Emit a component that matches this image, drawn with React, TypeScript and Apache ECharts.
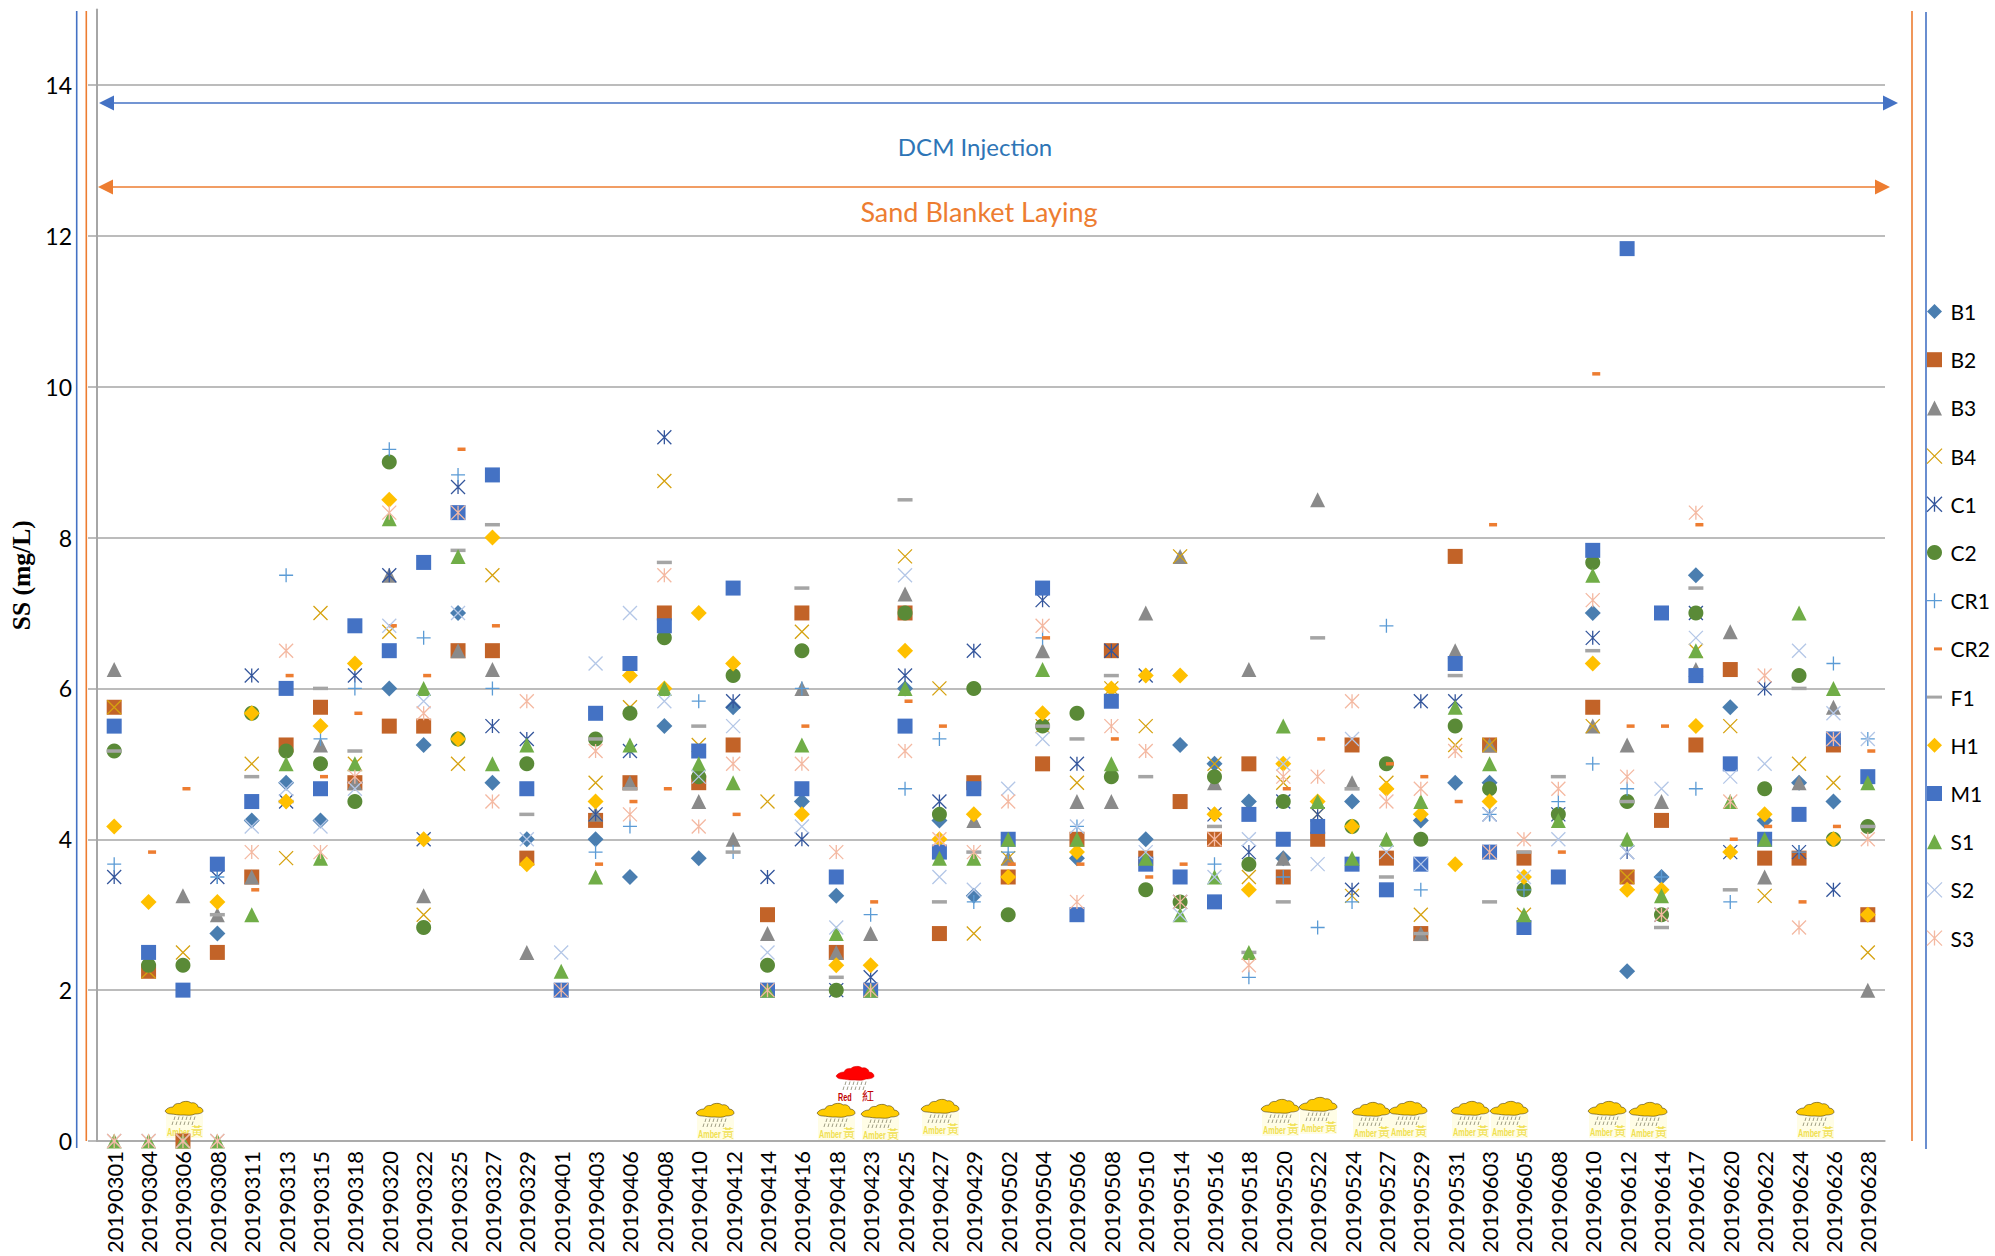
import React, { useEffect, useRef } from "react";
import * as echarts from "echarts";

const _ = null;
const dates = ["20190301","20190304","20190306","20190308","20190311","20190313","20190315","20190318","20190320","20190322","20190325","20190327","20190329","20190401","20190403","20190406","20190408","20190410","20190412","20190414","20190416","20190418","20190423","20190425","20190427","20190429","20190502","20190504","20190506","20190508","20190510","20190514","20190516","20190518","20190520","20190522","20190524","20190527","20190529","20190531","20190603","20190605","20190608","20190610","20190612","20190614","20190617","20190620","20190622","20190624","20190626","20190628"];

const B1 = [_,_,_,2.75,4.25,4.75,4.25,4.75,6,5.25, 7,4.75,4,_,4,3.5,5.5,3.75,5.75,_, 4.5,3.25,_,6,4.25,3.25,_,_,3.75,_, 4,5.25,5,4.5,3.75,_,4.5,_,4.25,4.75, 4.75,_,_,7,2.25,3.5,7.5,5.75,4.25,4.75, 4.5,_];
const B2 = [5.75,2.25,0,2.5,3.5,5.25,5.75,4.75,5.5,5.5, 6.5,6.5,3.75,_,4.25,4.75,7,4.75,5.25,3, 7,2.5,_,7,2.75,4.75,3.5,5,4,6.5, 3.75,4.5,4,5,3.5,4,5.25,3.75,2.75,7.75, 5.25,3.75,_,5.75,3.5,4.25,5.25,6.25,3.75,3.75, 5.25,3];
const B3 = [6.25,_,3.25,3,3.5,_,5.25,4.75,7.5,3.25, 6.5,6.25,2.5,_,4.33,4.75,_,4.5,4,2.75, 6,2.5,2.75,7.25,_,4.25,3.75,6.5,4.5,4.5, 7,7.75,4.75,6.25,3.75,8.5,4.75,_,2.75,6.5, 5.25,_,_,5.5,5.25,4.5,6.25,6.75,3.5,4.75, 5.75,2];
const B4 = [5.75,2.25,2.5,_,5,3.75,7,5,6.75,3, 5,7.5,_,_,4.75,5.75,8.75,5.25,_,4.5, 6.75,_,2,7.75,6,2.75,3.75,5.5,4.75,6, 5.5,7.75,5,3.5,4.75,4.33,3.25,4.75,3,5.25, 5.25,3,_,5.5,3.5,_,6.5,5.5,3.25,5, 4.75,2.5];
const C1 = [3.5,_,_,3.5,6.17,4.5,_,6.17,7.5,4, 8.67,5.5,5.33,2,4.33,5.17,9.33,_,5.83,3.5, 4,2,2.17,6.17,4.5,6.5,_,7.17,5,6.5, 6.17,3.17,4.33,3.83,4.5,4.33,3.33,_,5.83,5.83, 4.33,_,4.33,6.67,3.83,3,7,3.83,6,3.83, 3.33,_];
const C2 = [5.17,2.33,2.33,_,5.67,5.17,5,4.5,9,2.83, 5.33,_,5,_,5.33,5.67,6.67,4.83,6.17,2.33, 6.5,2,_,7,4.33,6,3,5.5,5.67,4.83, 3.33,3.17,4.83,3.67,4.5,_,4.17,5,4,5.5, 4.67,3.33,4.33,7.67,4.5,3,7,_,4.67,6.17, 4,4.17];
const CR1 = [3.67,_,_,3.5,_,7.5,5.33,6,9.17,6.67, 8.83,6,_,_,3.83,4.17,_,5.83,3.83,_, 6,_,3,4.67,5.33,3.17,3.83,6.67,4.17,_, _,_,3.67,2.17,3.5,2.83,3.17,6.83,3.33,_, 4.33,3.33,4.5,5,4.67,3.5,4.67,3.17,_,3.83, 6.33,5.33];
const CR2 = [_,3.83,4.67,_,3.33,6.17,4.83,5.67,6.83,6.17, 9.17,6.83,_,_,3.67,4.5,4.67,_,4.33,_, 5.5,_,3.17,5.83,5.5,_,3.67,6.67,3.67,5.33, 3.5,3.67,_,_,4.67,5.33,_,5,4.83,4.5, 8.17,_,3.83,10.17,5.5,5.5,8.17,4,4.17,3.17, 4.17,5.17];
const F1 = [5.17,_,_,3,4.83,4.5,6,5.17,_,_, 7.83,8.17,4.33,_,5.33,4.67,7.67,5.5,3.83,_, 7.33,2.17,_,8.5,3.17,3.83,_,5.5,5.33,6.17, 4.83,_,4.17,2.5,3.17,6.67,4.67,3.5,2.75,6.17, 3.17,3.83,4.83,6.5,4.5,2.83,7.33,3.33,_,6, _,4.17];
const H1 = [4.17,3.17,_,3.17,5.67,4.5,5.5,6.33,8.5,4, 5.33,8,3.67,_,4.5,6.17,6,7,6.33,_, 4.33,2.33,2.33,6.5,4,4.33,3.5,5.67,3.83,6, 6.17,6.17,4.33,3.33,5,4.5,4.17,4.67,4.33,3.67, 4.5,3.5,_,6.33,3.33,3.33,5.5,3.83,4.33,_, 4,3];
const M1 = [5.5,2.5,2,3.67,4.5,6,4.67,6.83,6.5,7.67, 8.33,8.83,4.67,2,5.67,6.33,6.83,5.17,7.33,2, 4.67,3.5,2,5.5,3.83,4.67,4,7.33,3,5.83, 3.67,3.5,3.17,4.33,4,4.17,3.67,3.33,3.67,6.33, 3.83,2.83,3.5,7.83,11.83,7,6.17,5,4,4.33, 5.33,4.83];
const S1 = [0,0,0,0,3,5,3.75,5,8.25,6, 7.75,5,5.25,2.25,3.5,5.25,6,5,4.75,2, 5.25,2.75,2,6,3.75,3.75,4,6.25,4,5, 3.75,3,3.5,2.5,5.5,4.5,3.75,4,4.5,5.75, 5,3,4.25,7.5,4,3.25,6.5,4.5,4,7, 6,4.75];
const S2 = [0,0,0,0,4.17,4.67,4.17,4.67,6.83,5.83, 7,_,4,2.5,6.33,7,5.83,4.83,5.5,2.5, 4.17,2.83,_,7.5,3.5,3.33,4.67,5.33,4.17,_, 3.83,3,3.5,4,5,3.67,5.33,3.83,3.67,_, 4.33,3.5,4,_,3.83,4.67,6.67,4.83,5,6.5, 5.67,5.33];
const S3 = [0,0,0,0,3.83,6.5,3.83,4.83,8.33,5.67, 8.33,4.5,5.83,2,5.17,4.33,7.5,4.17,5,2, 5,3.83,2,5.17,4,3.83,4.5,6.83,3.17,5.5, 5.17,3.17,4,2.33,4.83,4.83,5.83,4.5,4.67,5.17, 3.83,4,4.67,7.17,4.83,3,8.33,4.5,6.17,2.83, 5.33,4];

const yTicks = [0, 2, 4, 6, 8, 10, 12, 14];

const CROSS = "path://M0 0L15 15M15 0L0 15";
const PLUS = "path://M7.5 0L7.5 15M0 7.5L15 7.5";
const STAR = "path://M0 0L15 15M15 0L0 15M7.5 0L7.5 15";
const DASH_ICON = "path://M0 0L0 0M0 6H15V9H0ZM15 15L15 15";
const SHORT_ICON = "path://M0 0L0 0M7 6H15V9H7ZM15 15L15 15";

type Spec = { name: string; values: (number | null)[]; color: string; symbol: string; size: number | number[]; stroke?: boolean; offset?: number[]; icon?: string };
const specs: Spec[] = [
  { name: "B1", values: B1, color: "#4a7eb0", symbol: "diamond", size: 16 },
  { name: "B2", values: B2, color: "#c26328", symbol: "rect", size: 15 },
  { name: "B3", values: B3, color: "#8a8a8a", symbol: "triangle", size: [15, 15] },
  { name: "B4", values: B4, color: "#d6a210", symbol: CROSS, size: 14, stroke: true },
  { name: "C1", values: C1, color: "#34569c", symbol: STAR, size: 14, stroke: true },
  { name: "C2", values: C2, color: "#5a8a37", symbol: "circle", size: 15 },
  { name: "CR1", values: CR1, color: "#5b9bd5", symbol: PLUS, size: 14, stroke: true },
  { name: "CR2", values: CR2, color: "#ed7d31", symbol: "rect", size: [8, 3.5], offset: [3.5, 0], icon: SHORT_ICON },
  { name: "F1", values: F1, color: "#a5a5a5", symbol: "rect", size: [15, 3.5], icon: DASH_ICON },
  { name: "H1", values: H1, color: "#ffc000", symbol: "diamond", size: 16 },
  { name: "M1", values: M1, color: "#4472c4", symbol: "rect", size: 15 },
  { name: "S1", values: S1, color: "#70ad47", symbol: "triangle", size: [15, 15] },
  { name: "S2", values: S2, color: "#b4c7e7", symbol: CROSS, size: 14, stroke: true },
  { name: "S3", values: S3, color: "#f4b9a2", symbol: STAR, size: 14, stroke: true },
];

echarts.graphic.registerShape("cloud", echarts.graphic.extendPath(
  "M0 11C2 8 5 7 8 7C9 4 12 3 15 3.5C17 1 24 0.5 26 3C29 2 33 4 33 7C36 7 38 9 38 11C38 13 34 14 30 14C26 16 22 15 19 15C14 15.5 9 14 6 14C3 14 1 13 0 11Z", {}));
echarts.graphic.registerShape("rain", echarts.graphic.extendPath(
  "M10 0L9 3.5M14 0L13 3.5M18 0L17 3.5M22 0L21 3.5M26 0L25 3.5M30 0L29 3.5M8 5L7 8.5M12 5L11 8.5M16 5L15 8.5M20 5L19 8.5M24 5L23 8.5M28 5L27 8.5", {}));

// centre x and top y of the warning pictograms
const amberPlaces = [[184,1100],[715,1102],[836,1102],[880,1103],[940,1098],[1280,1098],[1318,1096],[1371,1101],[1408,1100],[1470,1100],[1509,1100],[1607,1100],[1648,1101],[1815,1101]];
const redPlaces = [[855,1065]];

function warningIcon(cx: number, top: number, fill: string, ink: string, word: string, han: string, back: string, edge: string) {
  const x = cx - 19;
  return {
    type: "group", x, y: top, silent: true,
    children: [
      { type: "rect", shape: { x: 1, y: 14, width: 37, height: 24 }, style: { fill: back } },
      { type: "cloud", x: 0, y: 0, style: { fill, stroke: edge, lineWidth: 0.5 } },
      { type: "rain", x: 0, y: 16.5, style: { fill: "none", stroke: "#77765a", lineWidth: 0.7 } },
      { type: "text", x: 2, y: 27, scaleX: 0.66, style: { text: word, fill: ink, font: 'bold 11px "Liberation Sans"' } },
      { type: "text", x: 26, y: 24.5, style: { text: han, fill: ink, font: '12px "Noto Sans CJK TC"' } },
    ],
  };
}

function arrow(x1: number, x2: number, y: number, color: string) {
  return [
    { type: "line", silent: true, shape: { x1: x1 + 10, y1: y, x2: x2 - 10, y2: y }, style: { stroke: color, lineWidth: 1.6 } },
    { type: "polygon", silent: true, shape: { points: [[x1, y], [x1 + 15, y - 7.5], [x1 + 15, y + 7.5]] }, style: { fill: color } },
    { type: "polygon", silent: true, shape: { points: [[x2, y], [x2 - 15, y - 7.5], [x2 - 15, y + 7.5]] }, style: { fill: color } },
  ];
}

function vline(x: number, y1: number, y2: number, color: string) {
  return { type: "line", silent: true, shape: { x1: x, y1, x2: x, y2 }, style: { stroke: color, lineWidth: 1.6 } };
}

export default function App() {
  const ref = useRef<HTMLDivElement>(null);
  useEffect(() => {
    const chart = echarts.init(ref.current!, null, { renderer: "svg" });
    const axisFont = "Lato";
    chart.setOption({
      animation: false,
      backgroundColor: "#ffffff",
      grid: { left: 97, right: 110, top: 9.5, height: 1131.5, outerBoundsMode: "none" },
      xAxis: {
        type: "category",
        data: dates,
        boundaryGap: true,
        axisLine: { lineStyle: { color: "#a6a6a6", width: 1.5 } },
        axisTick: { show: false },
        axisLabel: { interval: 0, rotate: 90, margin: 10, fontSize: 22, color: "#000", fontFamily: axisFont },
      },
      yAxis: {
        type: "value",
        min: 0,
        max: 15,
        interval: 2,
        name: "SS (mg/L)",
        nameLocation: "middle",
        nameGap: 62,
        nameTextStyle: { fontFamily: "Liberation Serif", fontWeight: "bold", fontSize: 25.5, color: "#000" },
        axisLine: { show: true, lineStyle: { color: "#a6a6a6", width: 2 } },
        axisTick: { show: true, length: 9, lineStyle: { color: "#a6a6a6", width: 1.5 }, customValues: yTicks },
        axisLabel: { margin: 25, fontSize: 23, color: "#000", fontFamily: axisFont, customValues: yTicks },
        splitLine: { show: true, lineStyle: { color: "#a6a6a6", width: 1.5 } },
      },
      legend: {
        orient: "vertical",
        left: 1924.5,
        top: 301,
        itemWidth: 15,
        itemHeight: 15,
        itemGap: 27.2,
        padding: 0,
        textStyle: { fontSize: 21, color: "#000", fontFamily: axisFont, lineHeight: 20, padding: [0, 0, 0, 3.5] },
        data: specs.map((s) => ({
          name: s.name,
          icon: s.icon ?? s.symbol,
          itemStyle: s.stroke
            ? { color: "none", borderColor: s.color, borderWidth: 1.3, opacity: 1 }
            : { color: s.color, borderWidth: 0, opacity: 1 },
        })),
      },
      series: specs.map((s) => ({
        name: s.name,
        type: "scatter",
        data: s.values,
        symbol: s.symbol,
        symbolSize: s.size,
        symbolOffset: s.offset,
        clip: false,
        itemStyle: s.stroke
          ? { color: "none", borderColor: s.color, borderWidth: 1.3, opacity: 1 }
          : { color: s.color, borderWidth: 0, opacity: 1 },
      })),
      graphic: [
        vline(76.7, 11, 1148, "#4472c4"),
        vline(86.3, 11, 1141, "#ed7d31"),
        vline(1912, 11, 1141, "#ed7d31"),
        vline(1926, 12, 1149, "#4472c4"),
        ...arrow(99, 1898, 103, "#4472c4"),
        ...arrow(98, 1890, 187, "#ed7d31"),
        { type: "text", x: 975, y: 146, style: { text: "DCM Injection", fill: "#2e75b6", font: '24px "Lato"', align: "center", verticalAlign: "middle" } },
        { type: "text", x: 979, y: 211.5, style: { text: "Sand Blanket Laying", fill: "#ed7d31", font: '27px "Lato"', align: "center", verticalAlign: "middle" } },
        ...redPlaces.map(([x, y]) => warningIcon(x, y, "#ff0000", "#c00000", "Red", "紅", "#ffffff", "#d00000")),
        ...amberPlaces.map(([x, y]) => warningIcon(x, y, "#ffcc00", "#f0e050", "Amber", "黃", "#fffde6", "#2a2000")),
      ],
    });
    return () => chart.dispose();
  }, []);
  return <div ref={ref} style={{ position: "fixed", left: 0, top: 0, width: 1995, height: 1256 }} />;
}
